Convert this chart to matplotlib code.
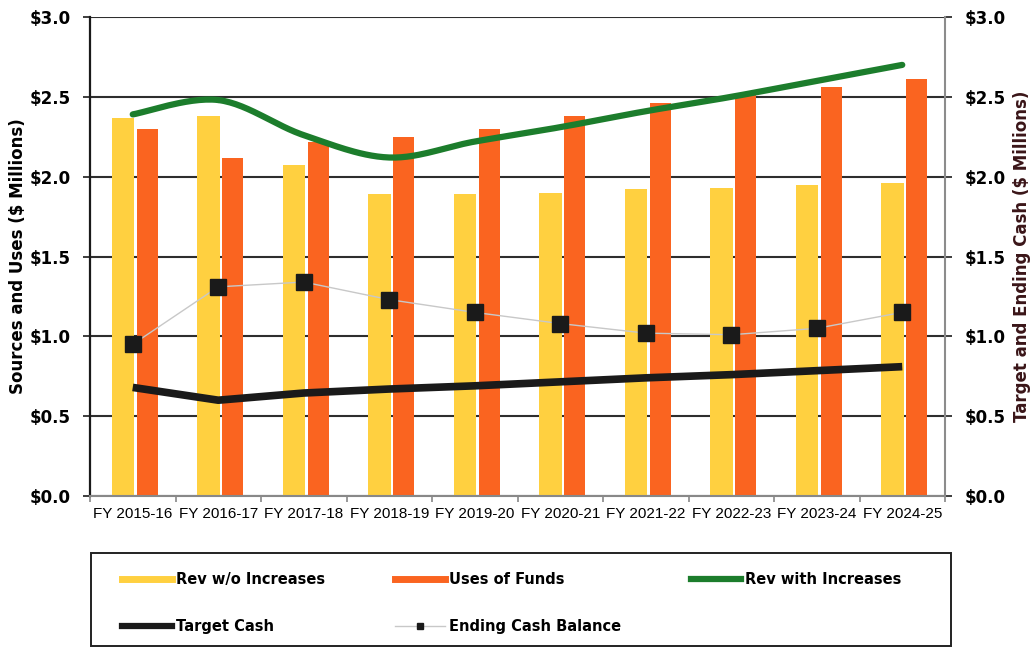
import numpy as np
import matplotlib
matplotlib.use("Agg")
import matplotlib.pyplot as plt
from matplotlib.lines import Line2D
from matplotlib.patches import Rectangle

# fiscal years and values ($ millions)
years = ["FY 2015-16", "FY 2016-17", "FY 2017-18", "FY 2018-19", "FY 2019-20",
         "FY 2020-21", "FY 2021-22", "FY 2022-23", "FY 2023-24", "FY 2024-25"]
rev_wo_increases = [2.37, 2.38, 2.07, 1.89, 1.89, 1.90, 1.92, 1.93, 1.95, 1.96]
uses_of_funds = [2.30, 2.12, 2.22, 2.25, 2.30, 2.38, 2.46, 2.51, 2.56, 2.61]
rev_with_increases = [2.39, 2.48, 2.26, 2.12, 2.22, 2.31, 2.41, 2.50, 2.60, 2.70]
target_cash = [0.68, 0.60, 0.645, 0.67, 0.69, 0.715, 0.74, 0.76, 0.785, 0.81]
ending_cash = [0.95, 1.31, 1.34, 1.23, 1.15, 1.08, 1.02, 1.01, 1.05, 1.15]

yellow = "#FFD040"
orange = "#FA6420"
green = "#1C7D2C"
dark = "#1a1a1a"

tick_font = {"family": "DejaVu Sans", "weight": "bold", "size": 12}
x_font = {"family": ["Liberation Sans", "DejaVu Sans"], "size": 11}
lab_font = {"family": "DejaVu Sans", "weight": "bold", "size": 12}


def smooth(xs, ys, n=30):
    # catmull-rom curve through the points, like a "smoothed line" chart
    px = np.concatenate([[xs[0]], xs, [xs[-1]]]).astype(float)
    py = np.concatenate([[ys[0]], ys, [ys[-1]]]).astype(float)
    t = np.linspace(0, 1, n)
    outx, outy = [], []
    for i in range(1, len(px) - 2):
        for p, out in ((px, outx), (py, outy)):
            p0, p1, p2, p3 = p[i - 1], p[i], p[i + 1], p[i + 2]
            out.extend(0.5 * (2 * p1 + (-p0 + p2) * t
                              + (2 * p0 - 5 * p1 + 4 * p2 - p3) * t ** 2
                              + (-p0 + 3 * p1 - 3 * p2 + p3) * t ** 3))
    return np.array(outx), np.array(outy)


x = np.arange(len(years))

fig = plt.figure(figsize=(10.36, 6.48), dpi=100)
ax = fig.add_axes([90 / 1036, 1 - 496 / 648, 855 / 1036, 479 / 648])

ax.bar(x - 0.115, rev_wo_increases, width=0.26, color=yellow, zorder=2)
ax.bar(x + 0.17, uses_of_funds, width=0.245, color=orange, zorder=2)
sx, sy = smooth(x, rev_with_increases)
ax.plot(sx, sy, color=green, lw=4.5, solid_capstyle="round", zorder=3)

ax.set_xlim(-0.5, len(years) - 0.5)
ax.set_ylim(0, 3.0)
ax.set_yticks(np.arange(0, 3.01, 0.5))
ax.set_yticklabels([f"${v:.1f}" for v in np.arange(0, 3.01, 0.5)], fontdict=tick_font)
ax.yaxis.grid(True, color="#2e2e2e", lw=1.5)
ax.set_axisbelow(True)
ax.set_xticks(x)
ax.set_xticklabels(years, fontdict=x_font)
ax.set_xticks(np.arange(-0.5, len(years)), minor=True)
ax.tick_params(axis="x", which="major", length=0, pad=8)
ax.tick_params(axis="x", which="minor", length=4, color="#888888", width=1.2)
ax.tick_params(axis="y", length=5, width=1.3, color="#2e2e2e", pad=9)
ax.spines["top"].set_visible(False)
ax.spines["right"].set_visible(False)
ax.spines["left"].set_color(dark)
ax.spines["left"].set_linewidth(1.6)
ax.spines["bottom"].set_color("#888888")
ax.spines["bottom"].set_linewidth(1.5)
ax.set_ylabel("Sources and Uses ($ Millions)", fontdict=lab_font, labelpad=2)

ax2 = ax.twinx()
ax2.plot(x, target_cash, color=dark, lw=5.5, solid_capstyle="butt", zorder=3)
ax2.plot(x, ending_cash, color="#c8c8c8", lw=1, marker="s", markersize=11,
         markerfacecolor=dark, markeredgecolor=dark, zorder=4)
ax2.set_ylim(0, 3.0)
ax2.set_yticks(np.arange(0, 3.01, 0.5))
ax2.set_yticklabels([f"${v:.1f}" for v in np.arange(0, 3.01, 0.5)], fontdict=tick_font)
ax2.tick_params(axis="y", length=5, width=1.3, color="#2e2e2e", pad=9)
for s in ("top", "left", "bottom"):
    ax2.spines[s].set_visible(False)
ax2.spines["right"].set_color("#8c8c8c")
ax2.spines["right"].set_linewidth(1.5)
ax2.set_ylabel("Target and Ending Cash ($ Millions)", fontdict=lab_font, color="#3a1518",
               labelpad=5)

# legend: frame drawn separately so it can span the plot width
fig.patches.append(Rectangle((91 / 1036, 1 - 646 / 648), 860 / 1036, 93 / 648,
                             transform=fig.transFigure, fill=False,
                             edgecolor="#222222", lw=1.4))
handles = [
    Line2D([], [], color=yellow, lw=5),
    Line2D([], [], color=dark, lw=4.5),
    Line2D([], [], color=orange, lw=5),
    Line2D([], [], color="#c8c8c8", lw=1, marker="s", markersize=5,
           markerfacecolor=dark, markeredgecolor=dark),
    Line2D([], [], color=green, lw=4.5),
]
labels = ["Rev w/o Increases", "Target Cash", "Uses of Funds", "Ending Cash Balance",
          "Rev with Increases"]
fig.legend(handles, labels, ncol=3, loc="center left",
           bbox_to_anchor=(122 / 1036, 1 - 603 / 648), borderaxespad=0,
           prop={"family": "DejaVu Sans", "weight": "bold", "size": 10.5},
           handlelength=3.4, handletextpad=0.3, labelspacing=2.2, borderpad=0,
           columnspacing=4.8, frameon=False)

fig.savefig("out.png", dpi=100)
